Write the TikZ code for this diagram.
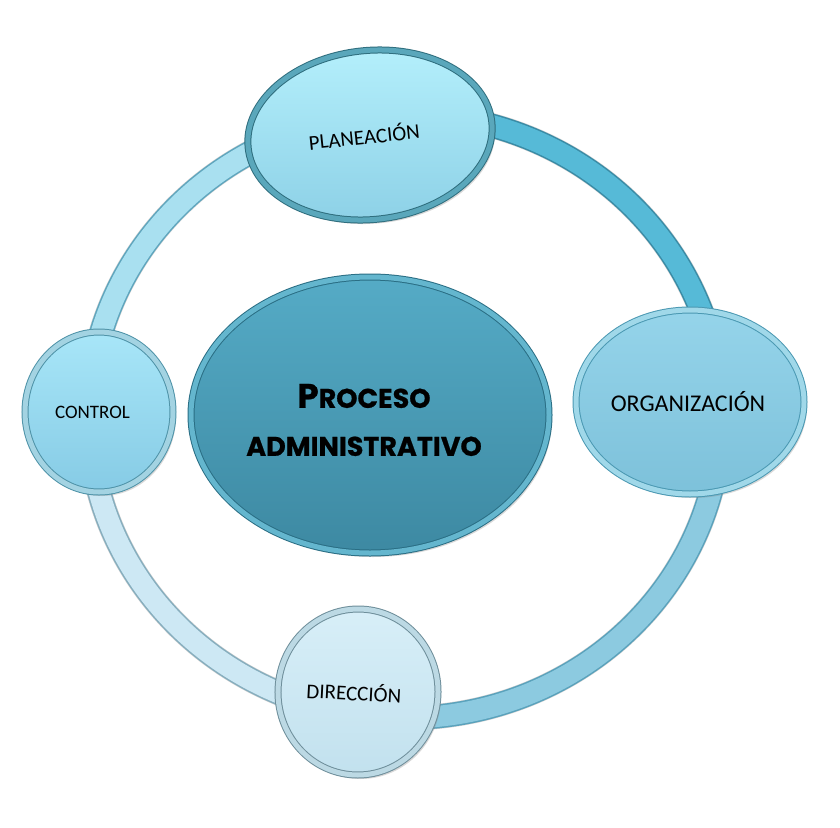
\documentclass[tikz,border=0pt]{standalone}
\usepackage{fontspec}
\setmainfont{Carlito}
\newfontfamily\procfont{Poppins}[BoldFeatures={FakeBold=0.8}]
\usetikzlibrary{shapes.geometric,shadows}
\definecolor{segA}{HTML}{A9E0F0}\definecolor{segAo}{HTML}{5FA6BE}
\definecolor{segB}{HTML}{56BAD7}\definecolor{segBo}{HTML}{3A8CA6}
\definecolor{segC}{HTML}{8CCAE0}\definecolor{segCo}{HTML}{5AA2BC}
\definecolor{segD}{HTML}{CDE8F4}\definecolor{segDo}{HTML}{86AEBE}
\definecolor{plT}{HTML}{B5F0FC}\definecolor{plB}{HTML}{8CD0E6}\definecolor{plE}{HTML}{2F6E7E}\definecolor{plR}{HTML}{5AA7BB}
\definecolor{coT}{HTML}{A8E6F8}\definecolor{coB}{HTML}{86CBE5}\definecolor{coE}{HTML}{4F93A8}\definecolor{coR}{HTML}{A3D3E2}
\definecolor{orT}{HTML}{95D4EA}\definecolor{orB}{HTML}{7DC1DA}\definecolor{orE}{HTML}{4A98B2}\definecolor{orR}{HTML}{A0D8E9}
\definecolor{diT}{HTML}{D8EFF8}\definecolor{diB}{HTML}{C2E1EE}\definecolor{diE}{HTML}{6E8E9A}\definecolor{diR}{HTML}{BCD9E4}
\definecolor{prT}{HTML}{55ABC6}\definecolor{prB}{HTML}{3D89A2}\definecolor{prE}{HTML}{2A6E84}\definecolor{prR}{HTML}{64B6CE}
\begin{document}
\begin{tikzpicture}[x=1pt,y=-1pt,
  stage/.style={ellipse, inner sep=0pt, line width=1pt, double distance=5pt,
    drop shadow={shadow xshift=3pt, shadow yshift=-4pt, opacity=0.3},
    text=black},
  seg/.style={line width=1.5pt, double distance=21pt},
  segshadow/.style={line width=25pt, black, opacity=0.18},
  lbl/.style={font=\fontsize{#1}{#1}\selectfont}]
\useasboundingbox (0,0) rectangle (840,827);
\fill[white] (0,0) rectangle (840,827);
\coordinate (rc) at (405,416);
% ring shadows
\foreach \a/\b in {180/263,263/357,-3/98,98/180}
  \draw[segshadow, shift={(3,4)}] (rc) ++(\a:316 and 302) arc[start angle=\a, end angle=\b, x radius=316, y radius=302];
% ring segments
\draw[seg, draw=segAo, double=segA] (rc) ++(180:316 and 302) arc[start angle=180, end angle=263, x radius=316, y radius=302];
\draw[seg, draw=segBo, double=segB] (rc) ++(263:316 and 302) arc[start angle=263, end angle=357, x radius=316, y radius=302];
\draw[seg, draw=segCo, double=segC] (rc) ++(-3:316 and 302) arc[start angle=-3, end angle=98, x radius=316, y radius=302];
\draw[seg, draw=segDo, double=segD] (rc) ++(98:316 and 302) arc[start angle=98, end angle=180, x radius=316, y radius=302];
% central node
\node[stage, draw=prE, double=prR, top color=prT, bottom color=prB,
      minimum width=358pt, minimum height=276pt] (proc) at (370,415) {};
\node[align=center, text=black, font=\procfont\bfseries\fontsize{27}{48}\selectfont] (proctext) at (364,420)
  {{\fontsize{34}{34}\selectfont P}ROCESO\\ADMINISTRATIVO};
% stage nodes
\node[stage, draw=plE, double=plR, top color=plT, bottom color=plB,
      minimum width=245pt, minimum height=169pt, rotate=6, lbl=21] (plan) at (370,135) {PLANEACIÓN\hspace*{12pt}};
\node[stage, draw=orE, double=orR, top color=orT, bottom color=orB,
      minimum width=228pt, minimum height=184pt, lbl=24] (org) at (690,402) {ORGANIZACIÓN\hspace*{4pt}};
\node[stage, draw=diE, double=diR, top color=diT, bottom color=diB,
      minimum width=160pt, minimum height=166pt, rotate=-3, lbl=21] (dir) at (358,692) {DIRECCIÓN\hspace*{8pt}};
\node[stage, draw=coE, double=coR, top color=coT, bottom color=coB,
      minimum width=148pt, minimum height=160pt, lbl=19] (ctrl) at (99,412) {CONTROL\hspace*{13pt}};
\end{tikzpicture}
\end{document}
